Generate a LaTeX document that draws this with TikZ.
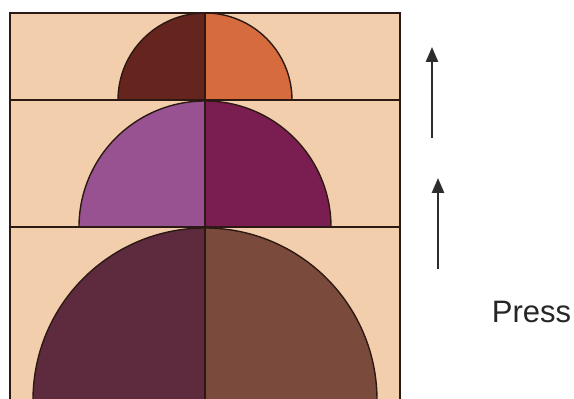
\documentclass[tikz,border=0pt]{standalone}
\usepackage{fontspec}
\setmainfont{Liberation Sans}
\usetikzlibrary{arrows.meta}
\definecolor{peach}{RGB}{242,206,172}
\definecolor{edge}{RGB}{45,25,20}
\definecolor{tl}{RGB}{102,36,30}
\definecolor{tr}{RGB}{214,108,62}
\definecolor{ml}{RGB}{152,82,146}
\definecolor{mr}{RGB}{122,30,82}
\definecolor{bl}{RGB}{94,43,62}
\definecolor{br}{RGB}{122,74,60}
\definecolor{arr}{RGB}{45,45,45}
\tikzset{
  half/.style={draw=edge, line width=1.4pt},
  frame/.style={draw=edge, line width=1.6pt},
  uparrow/.style={draw=arr, line width=2.6pt, -{Triangle[length=15pt,width=12pt]}}
}
\begin{document}
\begin{tikzpicture}[x=1pt,y=1pt]
\useasboundingbox (0,0) rectangle (574,399);
\fill[white] (0,0) rectangle (574,399);
\begin{scope}
\clip (0,0) rectangle (574,399);
\fill[peach] (10,-5) rectangle (400,386);
% bottom band
\fill[bl] (205,-1) -- (33,-1) arc[start angle=180,end angle=90,radius=172] -- cycle;
\fill[br] (205,-1) -- (205,171) arc[start angle=90,end angle=0,radius=172] -- cycle;
\draw[half] (33,-1) arc[start angle=180,end angle=0,radius=172];
\draw[half] (205,-1) -- (205,171);
% middle band
\fill[ml] (205,172) -- (79,172) arc[start angle=180,end angle=90,radius=126] -- cycle;
\fill[mr] (205,172) -- (205,298) arc[start angle=90,end angle=0,radius=126] -- cycle;
\draw[half] (79,172) arc[start angle=180,end angle=0,radius=126];
\draw[half] (205,172) -- (205,298);
% top band
\fill[tl] (205,299) -- (118,299) arc[start angle=180,end angle=90,radius=87] -- cycle;
\fill[tr] (205,299) -- (205,386) arc[start angle=90,end angle=0,radius=87] -- cycle;
\draw[half] (118,299) arc[start angle=180,end angle=0,radius=87];
\draw[half] (205,299) -- (205,386);
% frame lines
\draw[frame] (10,172) -- (400,172);
\draw[frame] (10,299) -- (400,299);
\draw[frame] (10,-5) -- (10,386) -- (400,386) -- (400,-5);
\end{scope}
\coordinate (a1s) at (432,261);
\coordinate (a1e) at (432,352);
\coordinate (a2s) at (438,130);
\coordinate (a2e) at (438,221);
\draw[uparrow] (a1s) -- (a1e);
\draw[uparrow] (a2s) -- (a2e);
\node[text=black!85, font=\fontsize{31}{36}\selectfont, anchor=base, inner sep=0pt] (press) at (531.5,76) {Press};
\end{tikzpicture}
\end{document}
